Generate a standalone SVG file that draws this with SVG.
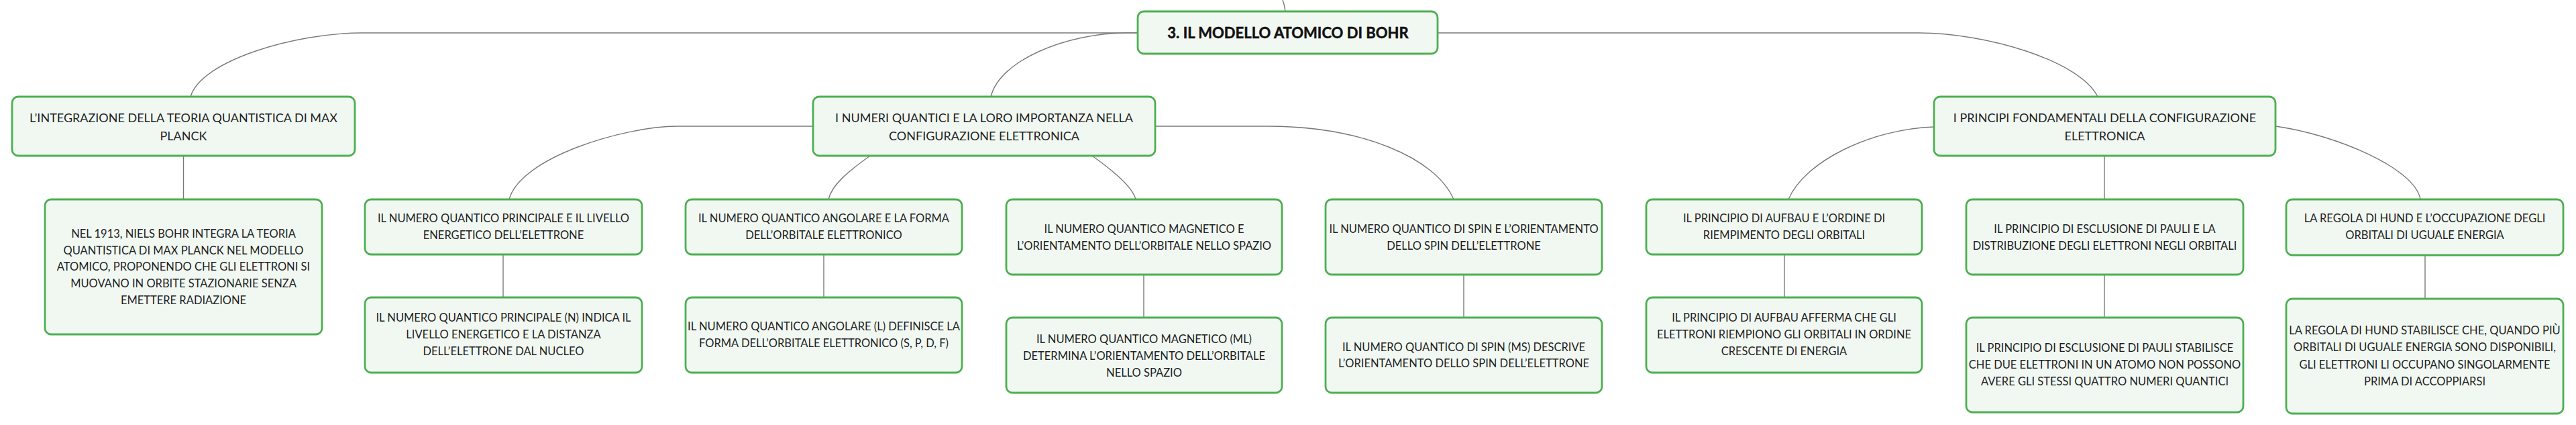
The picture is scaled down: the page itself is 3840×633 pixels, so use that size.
<svg xmlns="http://www.w3.org/2000/svg" width="3840" height="633" viewBox="0 0 3840 633">
<style>
.box{fill:#f1f8f2;stroke:#4caf50;stroke-width:2.8}
.c{fill:none;stroke:#7a7a7a;stroke-width:1.4}
text{font-family:Lato,"Noto Sans","Liberation Sans",sans-serif;fill:#222;text-anchor:middle}
.t{font-size:16.5px}
.t1{font-size:18px}
.root{font-size:22px;font-weight:bold;fill:#111;stroke:#111;stroke-width:0.5}
</style>
<rect width="3840" height="633" fill="#ffffff"/>
<g id="connectors">
<path class="c" d="M1916,17 C1915,10 1914,5 1912,0"/>
<path class="c" d="M1696,49 H540 C440,49 300,90 284,144"/>
<path class="c" d="M1696,49 H1680 C1590,49 1490,90 1477,144"/>
<path class="c" d="M2143,49 H2860 C2960,49 3100,90 3127,144"/>
<path class="c" d="M273.5,232 V297"/>
<path class="c" d="M1212,188 H1010 C930,188 775,235 759,297"/>
<path class="c" d="M1297,232 C1265,255 1240,275 1235,297"/>
<path class="c" d="M1628,232 C1660,255 1688,278 1693,297"/>
<path class="c" d="M1722,188 H1889 C2030,188 2140,235 2167,297"/>
<path class="c" d="M750,379 V443"/>
<path class="c" d="M1228,379 V443"/>
<path class="c" d="M1705,409 V473"/>
<path class="c" d="M2182,409 V473"/>
<path class="c" d="M2883,189 C2790,192 2690,240 2666,297"/>
<path class="c" d="M3137,232 V297"/>
<path class="c" d="M3392,188 C3480,200 3600,250 3608,297"/>
<path class="c" d="M2660,379 V443"/>
<path class="c" d="M3137,409 V473"/>
<path class="c" d="M3615,380 V445"/>
</g>
<g id="root">
<rect class="box" x="1696" y="17" width="447" height="63" rx="9"/>
<text class="root" x="1920" y="57">3. IL MODELLO ATOMICO DI BOHR</text>
</g>
<g id="n-integrazione">
<rect class="box" x="18" y="144" width="511" height="88" rx="9"/>
<text class="t1" x="273.5" y="182">L’INTEGRAZIONE DELLA TEORIA QUANTISTICA DI MAX</text>
<text class="t1" x="273.5" y="209">PLANCK</text>
</g>
<g id="n-integrazione-desc">
<rect class="box" x="67" y="297" width="413" height="201" rx="9"/>
<text class="t" x="273.5" y="354">NEL 1913, NIELS BOHR INTEGRA LA TEORIA</text>
<text class="t" x="273.5" y="379">QUANTISTICA DI MAX PLANCK NEL MODELLO</text>
<text class="t" x="273.5" y="403">ATOMICO, PROPONENDO CHE GLI ELETTRONI SI</text>
<text class="t" x="273.5" y="428">MUOVANO IN ORBITE STAZIONARIE SENZA</text>
<text class="t" x="273.5" y="453">EMETTERE RADIAZIONE</text>
</g>
<g id="n-numeri">
<rect class="box" x="1212" y="144" width="510" height="88" rx="9"/>
<text class="t1" x="1467" y="182">I NUMERI QUANTICI E LA LORO IMPORTANZA NELLA</text>
<text class="t1" x="1467" y="209">CONFIGURAZIONE ELETTRONICA</text>
</g>
<g id="n-principale">
<rect class="box" x="544" y="297" width="413" height="82" rx="9"/>
<text class="t" x="750.5" y="331">IL NUMERO QUANTICO PRINCIPALE E IL LIVELLO</text>
<text class="t" x="750.5" y="356">ENERGETICO DELL’ELETTRONE</text>
</g>
<g id="n-principale-desc">
<rect class="box" x="544" y="443" width="413" height="112" rx="9"/>
<text class="t" x="750.5" y="479">IL NUMERO QUANTICO PRINCIPALE (N) INDICA IL</text>
<text class="t" x="750.5" y="504">LIVELLO ENERGETICO E LA DISTANZA</text>
<text class="t" x="750.5" y="529">DELL’ELETTRONE DAL NUCLEO</text>
</g>
<g id="n-angolare">
<rect class="box" x="1022" y="297" width="412" height="82" rx="9"/>
<text class="t" x="1228" y="331">IL NUMERO QUANTICO ANGOLARE E LA FORMA</text>
<text class="t" x="1228" y="356">DELL’ORBITALE ELETTRONICO</text>
</g>
<g id="n-angolare-desc">
<rect class="box" x="1022" y="443" width="412" height="112" rx="9"/>
<text class="t" x="1228" y="492">IL NUMERO QUANTICO ANGOLARE (L) DEFINISCE LA</text>
<text class="t" x="1228" y="517">FORMA DELL’ORBITALE ELETTRONICO (S, P, D, F)</text>
</g>
<g id="n-magnetico">
<rect class="box" x="1500" y="297" width="411" height="112" rx="9"/>
<text class="t" x="1705.5" y="347">IL NUMERO QUANTICO MAGNETICO E</text>
<text class="t" x="1705.5" y="372">L’ORIENTAMENTO DELL’ORBITALE NELLO SPAZIO</text>
</g>
<g id="n-magnetico-desc">
<rect class="box" x="1500" y="473" width="411" height="112" rx="9"/>
<text class="t" x="1705.5" y="511">IL NUMERO QUANTICO MAGNETICO (ML)</text>
<text class="t" x="1705.5" y="536">DETERMINA L’ORIENTAMENTO DELL’ORBITALE</text>
<text class="t" x="1705.5" y="561">NELLO SPAZIO</text>
</g>
<g id="n-spin">
<rect class="box" x="1976" y="297" width="412" height="112" rx="9"/>
<text class="t" x="2182" y="347">IL NUMERO QUANTICO DI SPIN E L’ORIENTAMENTO</text>
<text class="t" x="2182" y="372">DELLO SPIN DELL’ELETTRONE</text>
</g>
<g id="n-spin-desc">
<rect class="box" x="1976" y="473" width="412" height="112" rx="9"/>
<text class="t" x="2182" y="523">IL NUMERO QUANTICO DI SPIN (MS) DESCRIVE</text>
<text class="t" x="2182" y="547">L’ORIENTAMENTO DELLO SPIN DELL’ELETTRONE</text>
</g>
<g id="n-principi">
<rect class="box" x="2883" y="144" width="509" height="88" rx="9"/>
<text class="t1" x="3137.5" y="182">I PRINCIPI FONDAMENTALI DELLA CONFIGURAZIONE</text>
<text class="t1" x="3137.5" y="209">ELETTRONICA</text>
</g>
<g id="n-aufbau">
<rect class="box" x="2454" y="297" width="411" height="82" rx="9"/>
<text class="t" x="2659.5" y="331">IL PRINCIPIO DI AUFBAU E L’ORDINE DI</text>
<text class="t" x="2659.5" y="356">RIEMPIMENTO DEGLI ORBITALI</text>
</g>
<g id="n-aufbau-desc">
<rect class="box" x="2454" y="443" width="411" height="112" rx="9"/>
<text class="t" x="2659.5" y="479">IL PRINCIPIO DI AUFBAU AFFERMA CHE GLI</text>
<text class="t" x="2659.5" y="504">ELETTRONI RIEMPIONO GLI ORBITALI IN ORDINE</text>
<text class="t" x="2659.5" y="529">CRESCENTE DI ENERGIA</text>
</g>
<g id="n-pauli">
<rect class="box" x="2931" y="297" width="413" height="112" rx="9"/>
<text class="t" x="3137.5" y="347">IL PRINCIPIO DI ESCLUSIONE DI PAULI E LA</text>
<text class="t" x="3137.5" y="372">DISTRIBUZIONE DEGLI ELETTRONI NEGLI ORBITALI</text>
</g>
<g id="n-pauli-desc">
<rect class="box" x="2931" y="473" width="413" height="141" rx="9"/>
<text class="t" x="3137.5" y="524">IL PRINCIPIO DI ESCLUSIONE DI PAULI STABILISCE</text>
<text class="t" x="3137.5" y="549">CHE DUE ELETTRONI IN UN ATOMO NON POSSONO</text>
<text class="t" x="3137.5" y="574">AVERE GLI STESSI QUATTRO NUMERI QUANTICI</text>
</g>
<g id="n-hund">
<rect class="box" x="3408" y="297" width="413" height="83" rx="9"/>
<text class="t" x="3614.5" y="331">LA REGOLA DI HUND E L’OCCUPAZIONE DEGLI</text>
<text class="t" x="3614.5" y="356">ORBITALI DI UGUALE ENERGIA</text>
</g>
<g id="n-hund-desc">
<rect class="box" x="3408" y="445" width="413" height="171" rx="9"/>
<text class="t" x="3614.5" y="498">LA REGOLA DI HUND STABILISCE CHE, QUANDO PIÙ</text>
<text class="t" x="3614.5" y="523">ORBITALI DI UGUALE ENERGIA SONO DISPONIBILI,</text>
<text class="t" x="3614.5" y="549">GLI ELETTRONI LI OCCUPANO SINGOLARMENTE</text>
<text class="t" x="3614.5" y="574">PRIMA DI ACCOPPIARSI</text>
</g>
</svg>
